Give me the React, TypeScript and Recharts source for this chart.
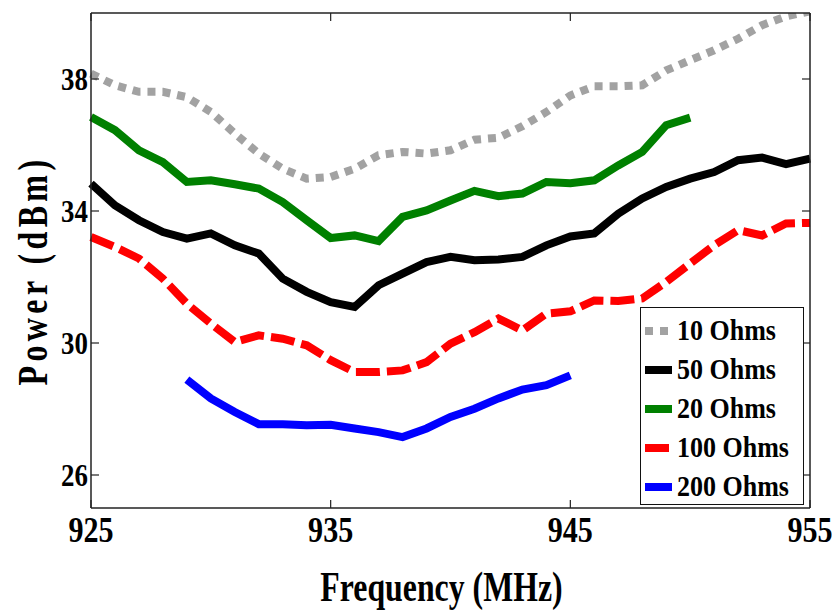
import React from "react";
import { Legend, Line, LineChart, XAxis, YAxis } from "recharts";

const FREQUENCY_MHZ = [
  925, 926, 927, 928, 929, 930, 931, 932, 933, 934, 935, 936, 937, 938, 939, 940,
  941, 942, 943, 944, 945, 946, 947, 948, 949, 950, 951, 952, 953, 954, 955,
];

const OHMS_10 = [
  38.16, 37.81, 37.61, 37.61, 37.45, 37.0, 36.35, 35.74, 35.28, 34.98, 35.03,
  35.28, 35.69, 35.79, 35.74, 35.84, 36.16, 36.22, 36.57, 37.0, 37.5, 37.78,
  37.78, 37.81, 38.26, 38.57, 38.87, 39.22, 39.63, 39.9, 40.05,
];
const OHMS_50 = [
  34.83, 34.17, 33.72, 33.36, 33.16, 33.32, 32.96, 32.71, 31.95, 31.55, 31.24,
  31.09, 31.75, 32.1, 32.45, 32.61, 32.51, 32.53, 32.61, 32.96, 33.23, 33.32,
  33.92, 34.38, 34.73, 34.98, 35.18, 35.54, 35.62, 35.42, 35.59,
];
const OHMS_20 = [
  36.85, 36.45, 35.84, 35.48, 34.88, 34.93, 34.81, 34.68, 34.27, 33.72, 33.18,
  33.26, 33.09, 33.82, 34.02, 34.32, 34.61, 34.45, 34.53, 34.88, 34.84, 34.93,
  35.38, 35.79, 36.6, 36.83, null, null, null, null, null,
];
const OHMS_100 = [
  33.21, 32.91, 32.56, 31.95, 31.19, 30.59, 30.03, 30.23, 30.13, 29.93, 29.48,
  29.12, 29.12, 29.17, 29.42, 29.98, 30.33, 30.74, 30.38, 30.89, 30.96, 31.29,
  31.27, 31.35, 31.85, 32.41, 32.96, 33.42, 33.26, 33.62, 33.64,
];
const OHMS_200 = [
  null, null, null, null, 28.89, 28.32, 27.91, 27.54, 27.54, 27.51, 27.52,
  27.41, 27.3, 27.15, 27.41, 27.76, 28.01, 28.32, 28.59, 28.72, 29.02, null,
  null, null, null, null, null, null, null, null, null,
];

const X_TICKS = [925, 935, 945, 955];
const Y_TICKS = [26, 30, 34, 38];

interface SeriesDef {
  key: string;
  name: string;
  values: (number | null)[];
  color: string;
  dash?: string;
}

// legend order follows the plotting order
const SERIES: SeriesDef[] = [
  { key: "r10", name: "10 Ohms", values: OHMS_10, color: "#a2a2a2", dash: "8 7" },
  { key: "r50", name: "50 Ohms", values: OHMS_50, color: "#000000" },
  { key: "r20", name: "20 Ohms", values: OHMS_20, color: "#008000" },
  { key: "r100", name: "100 Ohms", values: OHMS_100, color: "#ff0000", dash: "24 7" },
  { key: "r200", name: "200 Ohms", values: OHMS_200, color: "#0000ff" },
];

const rows = FREQUENCY_MHZ.map((freq, i) => {
  const row: Record<string, number | null> = { freq };
  SERIES.forEach((s) => {
    row[s.key] = s.values[i];
  });
  return row;
});

const FONT = '"Liberation Serif", "Times New Roman", serif';
const AXIS_COLOR = "#222";
const TICK_LEN = 8;

function BottomTick({ x, y, payload }: any) {
  return (
    <g>
      <line x1={x} y1={y} x2={x} y2={y - TICK_LEN} stroke={AXIS_COLOR} strokeWidth={1.2} />
      <text
        transform={`translate(${x},${y + 34}) scale(0.86,1)`}
        textAnchor="middle"
        fontFamily={FONT}
        fontWeight="bold"
        fontSize={35}
        fill="#000"
      >
        {payload.value}
      </text>
    </g>
  );
}

function TopTick({ x, y }: any) {
  return <line x1={x} y1={y} x2={x} y2={y + TICK_LEN} stroke={AXIS_COLOR} strokeWidth={1.2} />;
}

function LeftTick({ x, y, payload }: any) {
  return (
    <g>
      <line x1={x} y1={y} x2={x + TICK_LEN} y2={y} stroke={AXIS_COLOR} strokeWidth={1.2} />
      <text
        transform={`translate(${x - 3},${y + 11}) scale(0.84,1)`}
        textAnchor="end"
        fontFamily={FONT}
        fontWeight="bold"
        fontSize={32}
        fill="#000"
      >
        {payload.value}
      </text>
    </g>
  );
}

function RightTick({ x, y }: any) {
  return <line x1={x} y1={y} x2={x - TICK_LEN} y2={y} stroke={AXIS_COLOR} strokeWidth={1.2} />;
}

function XTitle({ viewBox }: any) {
  const cx = viewBox.x + viewBox.width / 2 - 9;
  return (
    <text
      transform={`translate(${cx},${viewBox.y + 93}) scale(0.74,1)`}
      textAnchor="middle"
      fontFamily={FONT}
      fontWeight="bold"
      fontSize={43}
      fill="#000"
    >
      Frequency (MHz)
    </text>
  );
}

function YTitle({ viewBox }: any) {
  const cy = viewBox.y + viewBox.height / 2 + 10;
  return (
    <text
      transform={`translate(47,${cy}) rotate(-90) scale(0.8,1.05)`}
      textAnchor="middle"
      fontFamily={FONT}
      fontWeight="bold"
      fontSize={40}
      letterSpacing={5.5}
      fill="#000"
    >
      Power (dBm)
    </text>
  );
}

function LegendBox() {
  return (
    <div
      style={{
        boxSizing: "border-box",
        width: 164,
        height: 198,
        border: "1.5px solid #111",
        background: "#fff",
        paddingTop: 4,
      }}
    >
      {SERIES.map((s) => (
        <div
          key={s.key}
          style={{ display: "flex", alignItems: "center", height: 38.8, whiteSpace: "nowrap" }}
        >
          <svg width={36} height={10} style={{ flex: "none" }}>
            <line
              x1={4}
              y1={5}
              x2={s.dash ? 28 : 31}
              y2={5}
              stroke={s.color}
              strokeWidth={8}
              strokeDasharray={s.dash === "8 7" ? s.dash : undefined}
            />
          </svg>
          <span
            style={{
              display: "inline-block",
              fontFamily: FONT,
              fontWeight: "bold",
              fontSize: 26,
              color: "#000",
              lineHeight: 1,
              transform: "scaleY(1.12)",
            }}
          >
            {s.name}
          </span>
        </div>
      ))}
    </div>
  );
}

export default function App() {
  return (
    <div style={{ width: 832, height: 612, background: "#fff" }}>
      <style>{"body{margin:0;background:#fff}"}</style>
      <LineChart
        width={832}
        height={612}
        data={rows}
        margin={{ top: 0, right: 0, bottom: 0, left: 0 }}
      >
        <XAxis
          dataKey="freq"
          type="number"
          domain={[925, 955]}
          ticks={X_TICKS}
          height={104}
          tickSize={0}
          tickMargin={0}
          tick={<BottomTick />}
          axisLine={{ stroke: AXIS_COLOR, strokeWidth: 1.5 }}
          tickLine={false}
          label={<XTitle />}
        />
        <XAxis
          xAxisId="top"
          orientation="top"
          dataKey="freq"
          type="number"
          domain={[925, 955]}
          ticks={X_TICKS}
          height={13}
          tickSize={0}
          tickMargin={0}
          tick={<TopTick />}
          axisLine={{ stroke: AXIS_COLOR, strokeWidth: 1.5 }}
          tickLine={false}
        />
        <YAxis
          type="number"
          domain={[25, 40]}
          allowDataOverflow
          ticks={Y_TICKS}
          width={91}
          tickSize={0}
          tickMargin={0}
          tick={<LeftTick />}
          axisLine={{ stroke: AXIS_COLOR, strokeWidth: 1.5 }}
          tickLine={false}
          label={<YTitle />}
        />
        <YAxis
          yAxisId="right"
          orientation="right"
          type="number"
          domain={[25, 40]}
          allowDataOverflow
          ticks={Y_TICKS}
          width={22}
          tickSize={0}
          tickMargin={0}
          tick={<RightTick />}
          axisLine={{ stroke: AXIS_COLOR, strokeWidth: 1.5 }}
          tickLine={false}
        />
        {SERIES.map((s) => (
          <Line
            key={s.key}
            dataKey={s.key}
            name={s.name}
            stroke={s.color}
            strokeWidth={8}
            strokeDasharray={s.dash}
            strokeLinejoin="miter"
            dot={false}
            activeDot={false}
            isAnimationActive={false}
          />
        ))}
        <Legend
          layout="vertical"
          align="center"
          verticalAlign="middle"
          wrapperStyle={{ position: "absolute", left: 640, top: 307, width: 164, height: 198 }}
          content={<LegendBox />}
        />
      </LineChart>
    </div>
  );
}
